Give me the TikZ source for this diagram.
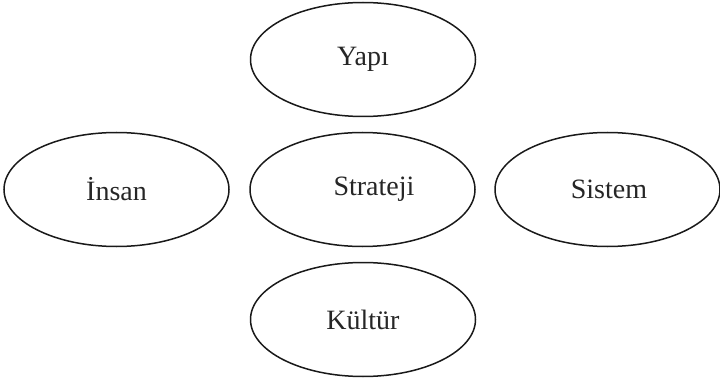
\documentclass[tikz,border=0pt]{standalone}
\usepackage{fontspec}
\setmainfont{Liberation Serif}
\usetikzlibrary{shapes.geometric}
\begin{document}
\begin{tikzpicture}[x=1pt,y=-1pt,
  oval/.style={draw=black!90,line width=1.5pt,ellipse,minimum width=225pt,minimum height=114pt,inner sep=0pt,
    font=\fontsize{28}{30}\selectfont,text=black!85}]
\useasboundingbox (0,0) rectangle (720,382);
\node[oval] (yapi) at (363,59.5) {Yapı};
\node[oval] (insan) at (116.5,189.5) {İnsan};
\node[oval] (strateji) at (362.5,189.5) {\hspace*{23pt}Strateji};
\node[oval] (sistem) at (607.5,189.5) {\hspace*{3pt}Sistem};
\node[oval] (kultur) at (363,319.5) {Kültür};
\end{tikzpicture}
\end{document}
